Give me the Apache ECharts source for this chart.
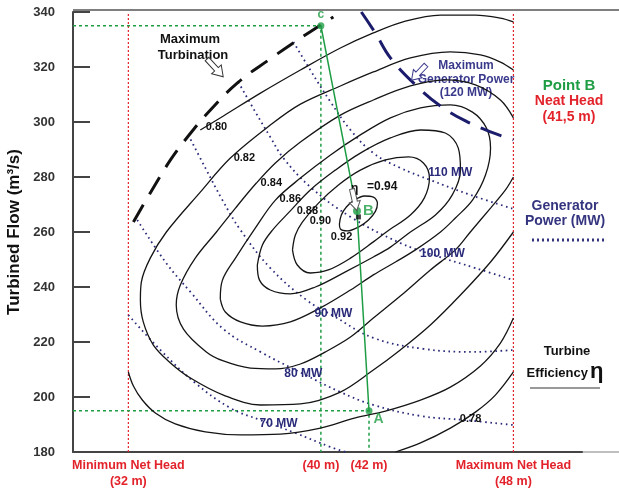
<!DOCTYPE html>
<html>
<head>
<meta charset="utf-8">
<script src="https://cdn.jsdelivr.net/npm/echarts@6/dist/echarts.min.js"></script>
<style>
html, body { margin: 0; padding: 0; background: #fff; }
#chart { width: 619px; height: 491px; }
</style>
</head>
<body>
<div id="chart"></div>
<script>
// Axis values
const flowTicks = [180, 340, 20];               // min, max, step of the flow axis (m3/s)
const headRange = [29.7, 50.85];                // visible net head range (m)
const headMarks = [32, 40, 42, 48];
const headMarkLabels = ['Minimum Net Head\n(32 m)', '(40 m)', '(42 m)', 'Maximum Net Head\n(48 m)'];
const headLimits = [32, 48];

// Turbine efficiency iso-lines: [net head (m), turbined flow (m3/s)]
const eff092 = [[40.77,262.9],[40.85,266.2],[41.06,269.1],[41.39,271.6],[41.81,273.1],[42.18,272.7],[42.35,270.5],[42.27,267.6],[41.98,264.4],[41.56,261.8],[41.10,260.4],[40.81,261.1],[40.77,262.9]];
const eff090 = [[38.82,253.5],[38.94,258.9],[39.23,263.6],[39.90,270.5],[40.73,277.1],[41.64,282.5],[42.68,286.2],[43.64,287.3],[44.26,285.1],[44.51,279.6],[44.30,272.4],[43.72,266.2],[42.72,260.0],[42.18,256.4],[41.23,250.5],[40.31,246.2],[39.56,245.1],[39.02,248.0],[38.82,253.5]];
const eff088 = [[37.36,248.0],[37.57,255.3],[37.99,260.7],[38.69,267.3],[39.56,275.3],[40.60,282.5],[41.64,288.7],[42.89,294.2],[44.14,297.1],[45.17,296.0],[45.71,290.5],[45.80,282.5],[45.46,273.5],[44.76,266.2],[43.72,260.0],[42.89,254.5],[42.18,250.9],[41.02,245.5],[39.77,240.0],[38.73,237.5],[37.90,238.9],[37.45,242.5],[37.36,248.0]];
const eff086 = [[35.82,235.6],[35.91,242.5],[36.45,250.5],[37.28,261.5],[38.11,271.6],[39.15,279.6],[40.40,288.0],[41.64,295.3],[42.89,301.5],[44.14,305.1],[45.38,306.2],[46.30,303.6],[46.88,297.8],[47.05,290.5],[46.84,280.7],[46.30,271.6],[45.59,265.1],[44.97,260.0],[43.93,253.5],[43.10,249.1],[42.18,244.4],[41.23,238.9],[39.98,232.4],[38.73,227.3],[37.57,225.8],[36.66,227.3],[36.03,230.9],[35.82,235.6]];
const eff084 = [[48.0,301.5],[47.46,308.0],[46.42,313.5],[45.17,315.3],[43.72,313.1],[42.18,308.0],[40.81,302.5],[39.15,292.7],[38.11,285.1],[37.32,277.8],[36.45,268.7],[35.66,260.0],[34.78,250.5],[34.16,240.7],[33.99,233.5],[34.29,224.7],[35.24,216.4],[35.95,213.1],[37.07,210.5],[38.11,210.2],[39.15,212.0],[40.19,216.4],[41.23,221.8],[42.18,228.7],[43.30,236.7],[44.55,246.2],[45.59,253.5],[46.21,260.0],[47.05,268.7],[47.67,275.3],[48.0,280.0]];
const eff082 = [[48.0,318.9],[47.46,321.8],[46.63,324.4],[45.38,325.5],[43.72,323.3],[42.18,318.2],[40.81,313.1],[39.15,306.5],[37.90,298.9],[36.24,286.9],[34.99,274.5],[33.58,260.0],[32.91,250.5],[32.54,241.8],[32.50,235.3],[32.62,227.3],[33.04,218.9],[33.75,212.4],[34.58,206.9],[35.95,200.7],[37.49,197.1],[39.15,197.5],[40.81,201.8],[42.18,209.8],[43.30,217.1],[44.55,226.2],[45.80,237.1],[47.05,249.1],[48.0,260.0]];
const eff080Upper = [[34.99,297.1],[35.95,302.2],[37.49,310.5],[39.15,318.9],[40.81,326.9],[42.18,332.4],[43.51,336.7],[44.97,338.9],[46.42,338.9],[47.46,337.8],[48.0,336.4]];
const eff080Lower = [[32.0,209.1],[32.21,204.0],[32.58,198.9],[33.12,194.2],[33.95,190.2],[35.20,187.3],[36.66,186.2],[38.32,186.5],[39.98,188.7],[41.43,192.4],[42.68,194.9],[44.14,198.9],[45.38,203.6],[46.63,211.3],[47.46,219.6],[48.0,228.7]];
const eff078 = [[43.10,180.0],[44.14,183.3],[45.38,188.7],[46.42,194.5],[47.25,200.7],[48.0,209.1]];

// Operating limits
const maxTurbination = [[32.21,263.6],[32.91,274.2],[33.75,286.2],[34.49,294.9],[35.41,304.4],[36.57,314.5],[37.82,322.5],[39.15,330.5],[40.52,338.2]];
const maxGenerator120 = [[41.68,340.0],[42.26,332.4],[42.89,323.3],[43.93,313.5],[44.97,305.8],[46.01,300.4],[47.05,296.4],[48.0,293.5]];

// Generator power iso-lines (MW)
const power70 = [[32.0,229.8],[33.33,217.1],[34.78,205.1],[36.24,196.0],[37.49,191.6],[38.94,186.9],[40.40,181.8],[41.02,180.0]];
const power80 = [[32.37,264.4],[33.54,249.1],[34.58,238.2],[35.95,224.7],[37.49,216.4],[39.27,208.4],[40.81,201.8],[42.18,197.1],[44.14,193.1],[46.01,191.6],[48.0,189.8]];
const power90 = [[34.49,295.3],[35.20,283.3],[35.91,271.6],[36.66,260.7],[37.90,246.9],[39.40,235.3],[40.52,229.5],[42.18,221.5],[44.26,217.5],[46.34,216.4],[48.0,217.1]];
const power100 = [[36.57,314.5],[37.28,303.6],[37.90,294.5],[38.44,286.9],[39.56,276.4],[41.23,265.5],[43.30,256.0],[44.80,251.3],[46.42,246.9],[48.0,242.5]];
const power110 = [[38.86,329.1],[39.56,318.9],[40.40,307.3],[41.23,297.1],[42.18,288.7],[43.30,283.3],[44.55,278.9],[46.21,273.5],[48.0,268.4]];

// Operating points
const pointC = [40, 335];
const pointB = [41.5, 267.6];
const pointA = [42, 195];
const bestEfficiencyPoint = [41.56, 265.5];
const operatingPath = [pointC, pointB, pointA];

// Iso-line labels: [text, head, flow]
const effLabels = [['0.80',35.66,298.2],['0.82',36.82,286.9],['0.84',37.94,277.8],['0.86',38.73,272.0],['0.88',39.44,267.6],['0.90',39.98,264.0],['0.92',40.86,258.2],['0.78',46.22,192.0]];
const powerLabels = [['70 MW',38.24,190.2],['80 MW',39.27,208.4],['90 MW',40.52,230.2],['100 MW',45.05,252.0],['110 MW',45.38,281.5]];
const etaLabels = [['η',41.40,275.6],['=0.94',42.55,276.4]];

const FONT = 'Liberation Sans, Arial, sans-serif';
const NAVY = '#2a2a7a';
const GREEN = '#1f9d45';
const RED = '#e3232b';

function curve(data, color, width, dash, smooth, z) {
  return {
    type: 'line', data: data, symbol: 'none', showSymbol: false, silent: true,
    smooth: smooth, z: z || 2, animation: false,
    lineStyle: { color: color, width: width, type: dash, cap: 'butt' }
  };
}

// text placed at data coordinates (centred on the point)
function labelLayer(items, style, z) {
  return {
    type: 'scatter', symbol: 'circle', symbolSize: 0, silent: true, z: z || 6, zlevel: 0, animation: false,
    itemStyle: { color: '#fff', opacity: 1 },
    emphasis: { disabled: true },
    data: items.map(d => ({ name: d[0], value: [d[1], d[2]] })),
    label: Object.assign({ show: true, position: 'inside', formatter: p => p.name, fontFamily: FONT,
      opacity: 1, textBorderWidth: 0, textShadowBlur: 0 }, style)
  };
}

const chart = echarts.init(document.getElementById('chart'), null, { renderer: 'canvas' });

const contourStyle = ['#151515', 1.3, 'solid', 0.35, 3];

chart.setOption({
  animation: false,
  backgroundColor: '#fff',
  grid: { left: 73, top: 12, width: 509, height: 440, containLabel: false, outerBoundsMode: 'none' },
  xAxis: {
    type: 'value', min: headRange[0], max: headRange[1],
    splitLine: { show: false },
    axisTick: { show: false },
    axisLine: { show: true, lineStyle: { color: '#444', width: 2 } },
    axisLabel: {
      customValues: headMarks,
      formatter: v => headMarkLabels[headMarks.indexOf(v)] || '',
      color: RED, fontWeight: 'bold', fontSize: 12.5, lineHeight: 16, margin: 6, fontFamily: FONT
    },
    name: 'Net Head (m)', nameLocation: 'middle', nameGap: 19,
    nameTextStyle: { fontSize: 17, fontWeight: 'bold', color: '#111', fontFamily: FONT }
  },
  yAxis: {
    type: 'value', min: flowTicks[0], max: flowTicks[1], interval: flowTicks[2],
    splitLine: { show: false },
    axisLine: { show: true, lineStyle: { color: '#444', width: 2 } },
    axisTick: { show: true, inside: true, length: 17, lineStyle: { color: '#444', width: 2 } },
    axisLabel: { margin: 18, fontWeight: 'bold', fontSize: 13, color: '#333', fontFamily: FONT },
    name: 'Turbined Flow (m³/s)', nameLocation: 'middle', nameGap: 47,
    nameTextStyle: { fontSize: 17, fontWeight: 'bold', color: '#111', fontFamily: FONT }
  },
  series: [
    // net head limits
    curve([[headLimits[0], 180], [headLimits[0], 340]], RED, 1.2, [2, 2], false, 1),
    curve([[headLimits[1], 180], [headLimits[1], 340]], RED, 1.2, [2, 2], false, 1),
    // guide lines to points C and A
    curve([[headRange[0], pointC[1]], pointC, [pointC[0], 180]], GREEN, 1.5, [3, 3], false, 1),
    curve([[headRange[0], pointA[1]], pointA, [pointA[0], 180]], GREEN, 1.5, [3, 3], false, 1),
    // efficiency contours
    curve(eff092, ...contourStyle),
    curve(eff090, ...contourStyle),
    curve(eff088, ...contourStyle),
    curve(eff086, ...contourStyle),
    curve(eff084, ...contourStyle),
    curve(eff082, ...contourStyle),
    curve(eff080Upper, ...contourStyle),
    curve(eff080Lower, ...contourStyle),
    curve(eff078, ...contourStyle),
    // generator power lines
    curve(power70, NAVY, 1.8, [1.6, 3.6], 0.4, 2),
    curve(power80, NAVY, 1.8, [1.6, 3.6], 0.4, 2),
    curve(power90, NAVY, 1.8, [1.6, 3.6], 0.4, 2),
    curve(power100, NAVY, 1.8, [1.6, 3.6], 0.4, 2),
    curve(power110, NAVY, 1.8, [1.6, 3.6], 0.4, 2),
    // limit curves
    curve(maxTurbination, '#111', 3, [20, 12], 0.4, 4),
    curve(maxGenerator120, '#1c1c6c', 3, [22, 12], 0.4, 4),
    // operating path C - B - A
    curve(operatingPath, GREEN, 1.5, 'solid', false, 5),
    labelLayer(effLabels, { fontSize: 11, fontWeight: 'bold', color: '#111' }),
    labelLayer(powerLabels, { fontSize: 12, fontWeight: 'bold', color: NAVY }),
    labelLayer(etaLabels, { fontSize: 12, fontWeight: 'bold', color: '#111' }),
    {
      type: 'scatter', silent: true, z: 7, animation: false,
      symbol: 'rect', symbolSize: 5, itemStyle: { color: '#111' },
      data: [bestEfficiencyPoint]
    },
    {
      type: 'scatter', silent: true, z: 8, animation: false,
      symbol: 'circle', symbolSize: 7, itemStyle: { color: GREEN },
      data: [
        { value: pointC, label: { show: true, formatter: 'c', position: 'top', distance: 2, fontSize: 12, fontWeight: 'bold', color: GREEN, fontFamily: FONT } },
        { value: pointB, symbolSize: 8, label: { show: true, formatter: 'B', position: 'right', distance: 2, fontSize: 15, fontWeight: 'bold', color: GREEN, fontFamily: FONT } },
        { value: pointA, label: { show: true, formatter: 'A', position: 'right', distance: 1, offset: [0, 8], fontSize: 14, fontWeight: 'bold', color: GREEN, fontFamily: FONT } }
      ]
    }
  ],
  graphic: [
    { type: 'line', shape: { x1: 73, y1: 10, x2: 619, y2: 10 }, style: { stroke: '#555', lineWidth: 1.5 }, silent: true },
    { type: 'line', shape: { x1: 582, y1: 452, x2: 619, y2: 452 }, style: { stroke: '#aaa', lineWidth: 1.5 }, silent: true },
    // limit annotations
    { type: 'text', x: 190, y: 39, style: { text: 'Maximum', font: 'bold 13px ' + FONT, fill: '#111', align: 'center', verticalAlign: 'middle' } },
    { type: 'text', x: 193, y: 55, style: { text: 'Turbination', font: 'bold 13px ' + FONT, fill: '#111', align: 'center', verticalAlign: 'middle' } },
    { type: 'polygon', x: 207, y: 59, rotation: -0.83, shape: { points: [[0,-2.5],[14,-2.5],[14,-6.5],[24,0],[14,6.5],[14,2.5],[0,2.5]] }, style: { fill: '#fff', stroke: '#333', lineWidth: 1 }, z: 10 },
    { type: 'text', x: 466, y: 66, style: { text: 'Maximum', font: 'bold 12px ' + FONT, fill: '#3a3a8c', align: 'center', verticalAlign: 'middle' } },
    { type: 'text', x: 466, y: 80, style: { text: 'Generator Power', font: 'bold 12px ' + FONT, fill: '#3a3a8c', align: 'center', verticalAlign: 'middle' } },
    { type: 'text', x: 466, y: 93, style: { text: '(120 MW)', font: 'bold 12px ' + FONT, fill: '#3a3a8c', align: 'center', verticalAlign: 'middle' } },
    { type: 'polygon', x: 426, y: 65, rotation: -2.33, shape: { points: [[0,-2.5],[12,-2.5],[12,-6],[21,0],[12,6],[12,2.5],[0,2.5]] }, style: { fill: '#fff', stroke: '#3a3a8c', lineWidth: 1 }, z: 10 },
    { type: 'polygon', x: 352, y: 189, rotation: -1.35, shape: { points: [[0,-2.5],[13,-2.5],[13,-5.5],[22,0],[13,5.5],[13,2.5],[0,2.5]] }, style: { fill: '#fff', stroke: '#555', lineWidth: 1 }, z: 10 },
    // side notes
    { type: 'text', x: 569, y: 86, style: { text: 'Point B', font: 'bold 15px ' + FONT, fill: GREEN, align: 'center', verticalAlign: 'middle' } },
    { type: 'text', x: 569, y: 101, style: { text: 'Neat Head', font: 'bold 14px ' + FONT, fill: RED, align: 'center', verticalAlign: 'middle' } },
    { type: 'text', x: 569, y: 117, style: { text: '(41,5 m)', font: 'bold 14px ' + FONT, fill: RED, align: 'center', verticalAlign: 'middle' } },
    { type: 'text', x: 565, y: 206, style: { text: 'Generator', font: 'bold 14px ' + FONT, fill: '#34347f', align: 'center', verticalAlign: 'middle' } },
    { type: 'text', x: 565, y: 221, style: { text: 'Power (MW)', font: 'bold 14px ' + FONT, fill: '#34347f', align: 'center', verticalAlign: 'middle' } },
    { type: 'line', shape: { x1: 532, y1: 240, x2: 605, y2: 240 }, style: { stroke: '#34347f', lineWidth: 3, lineDash: [2, 3] } },
    { type: 'text', x: 567, y: 351, style: { text: 'Turbine', font: 'bold 13px ' + FONT, fill: '#111', align: 'center', verticalAlign: 'middle' } },
    { type: 'text', x: 588, y: 373, style: { text: 'Efficiency', font: 'bold 13px ' + FONT, fill: '#111', align: 'right', verticalAlign: 'middle' } },
    { type: 'text', x: 590, y: 372, style: { text: 'η', font: 'bold 22px ' + FONT, fill: '#111', align: 'left', verticalAlign: 'middle' } },
    { type: 'line', shape: { x1: 530, y1: 388, x2: 600, y2: 388 }, style: { stroke: '#333', lineWidth: 1 } }
  ]
});
</script>
</body>
</html>
